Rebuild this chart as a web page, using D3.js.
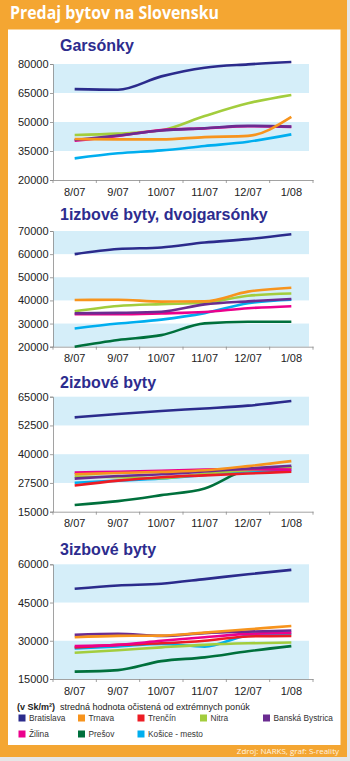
<!DOCTYPE html>
<html><head><meta charset="utf-8">
<script src="https://cdn.jsdelivr.net/npm/d3@7"></script>
<style>
html,body{margin:0;padding:0;background:#fff;}
svg{display:block;}
</style></head>
<body><svg id="c" width="350" height="761"></svg>
<script>
const categories = ["8/07","9/07","10/07","11/07","12/07","1/08"];
const cities = ["Bratislava","Trnava","Trenčín","Nitra","Banská Bystrica","Žilina","Prešov","Košice - mesto"];
const cityColors = ["#2b2b8c","#f7941d","#ed1c24","#a3cd3d","#6b2c91","#ec008c","#00703c","#00aeef"];

const chartTitles = ["Garsónky","1izbové byty, dvojgarsónky","2izbové byty","3izbové byty"];
const garsonkyTicks = [80000,65000,50000,35000,20000];
const izbove1Ticks = [70000,60000,50000,40000,30000,20000];
const izbove2Ticks = [65000,52500,40000,27500,15000];
const izbove3Ticks = [60000,45000,30000,15000];

// rows follow the order of `cities`; null = series not shown
const garsonky = [
  [67000,66700,73600,78100,79800,81000],
  [41200,41000,41000,42200,42800,52600],
  null,
  [43300,44000,45700,53100,59700,64000],
  [40700,43000,45600,46800,48000,47600],
  [40300,42800,45800,46700,47800,47500],
  null,
  [31200,33800,35300,37600,39800,43600]
];
const izbove1 = [
  [60000,62200,62900,65000,66500,68600],
  [40200,40300,39500,39600,43800,45500],
  null,
  [35300,37600,38400,39000,42000,43000],
  [34400,34600,35100,38300,39600,40600],
  [34000,34000,34400,35000,36600,37500],
  [20000,22900,25000,30100,30800,30800],
  [27900,30000,31700,34500,38800,40300]
];
const izbove2 = [
  [56000,57500,58800,59900,61100,63100],
  [31300,31800,32300,33000,34800,37000],
  [26400,28500,30000,30800,31600,32400],
  [30300,30000,29600,31500,33000,34100],
  [29400,30500,31300,32500,33800,35000],
  [32000,32400,32800,33300,33500,33300],
  [17900,19600,22200,25100,33100,34300],
  [27600,28500,29500,31000,32500,33000]
];
const izbove3 = [
  [50400,51700,52400,54200,56100,57800],
  [31400,31900,32000,33200,34500,35800],
  [27400,28400,29000,30000,31700,31900],
  [25300,26300,27400,28400,29000,29300],
  [32300,32700,31900,33000,33600,34000],
  [27900,28400,30000,31400,32700,33200],
  [17900,18500,22000,23500,25900,27900],
  [27000,27800,28800,27700,32000,32700]
];

const mainTitle = "Predaj bytov na Slovensku";
const unitLabel = "(v Sk/m²)";
const noteLabel = "stredná hodnota očistená od extrémnych ponúk";
const sourceLabel = "Zdroj: NARKS, graf: S-reality";

// ---------- layout ----------
const svg = d3.select("#c");
const ORANGE = "#f4a632";
svg.append("rect").attr("x",0).attr("y",0).attr("width",350).attr("height",761).attr("fill","#e6e6e6");
svg.append("rect").attr("x",0).attr("y",0).attr("width",347).attr("height",757).attr("fill",ORANGE);
svg.append("rect").attr("x",8).attr("y",29.5).attr("width",332.5).attr("height",715.5).attr("fill","#fff");

svg.append("text").attr("x",10).attr("y",19).text(mainTitle)
  .attr("font-family","'Open Sans', Lato, sans-serif").attr("font-weight","bold")
  .attr("font-size",17).attr("fill","#fff")
  .attr("textLength",209).attr("lengthAdjust","spacingAndGlyphs");

const charts = [
  {data: garsonky, ticks: garsonkyTicks, top: 64, bottom: 180, titleY: 51},
  {data: izbove1, ticks: izbove1Ticks, top: 231, bottom: 346.7, titleY: 220},
  {data: izbove2, ticks: izbove2Ticks, top: 396.7, bottom: 511.7, titleY: 388},
  {data: izbove3, ticks: izbove3Ticks, top: 564.3, bottom: 679, titleY: 554.5}
];
const drawOrder = [6,7,3,2,5,4,1,0];
const x = d3.scaleBand().domain(categories).range([53,313]);
const FONT = "'Liberation Sans', Arial, sans-serif";

charts.forEach((c,ci) => {
  const g = svg.append("g");
  const tk = c.ticks;
  const y = d3.scaleLinear().domain([d3.min(tk), d3.max(tk)]).range([c.bottom, c.top]);
  for (let i = 0; i + 1 < tk.length; i += 2) {
    g.append("rect").attr("x",53).attr("width",256)
      .attr("y", y(tk[i])).attr("height", y(tk[i+1]) - y(tk[i]))
      .attr("fill","#d5eef9");
  }
  g.append("text").attr("x",60).attr("y",c.titleY).text(chartTitles[ci])
    .attr("font-family",FONT).attr("font-weight","bold").attr("font-size",16)
    .attr("fill","#2d2c8e");
  const ya = d3.axisLeft(y).tickValues(tk).tickSize(3).tickPadding(1.5).tickFormat(d3.format("d"));
  const yg = g.append("g").attr("transform","translate(53,0)").call(ya);
  const xa = d3.axisBottom(x).tickSize(0).tickPadding(8);
  const xg = g.append("g").attr("transform",`translate(0,${c.bottom})`).call(xa);
  const edges = categories.map(d => x(d)).concat([x.range()[1]]);
  g.selectAll(".xe").data(edges).join("line")
    .attr("x1",d=>d).attr("x2",d=>d).attr("y1",c.bottom).attr("y2",c.bottom+3)
    .attr("stroke","#8a8a8a").attr("stroke-width",0.8);
  [yg,xg].forEach(a => {
    a.select(".domain").attr("stroke","#8a8a8a").attr("stroke-width",0.8);
    a.selectAll(".tick line").attr("stroke","#8a8a8a").attr("stroke-width",0.8);
    a.selectAll("text").attr("font-family",FONT).attr("font-size",11).attr("fill","#222");
  });
  const line = d3.line().x((d,i)=>x(categories[i]) + x.bandwidth()/2).y(d=>y(d)).curve(d3.curveMonotoneX);
  drawOrder.forEach(k => {
    const s = c.data[k];
    if (!s) return;
    g.append("path").attr("d", line(s)).attr("fill","none")
      .attr("stroke", cityColors[k]).attr("stroke-width",2.6)
      .attr("stroke-linejoin","round").attr("stroke-linecap","butt");
  });
});

const note = svg.append("text").attr("x",17).attr("y",710).attr("font-family",FONT).attr("font-size",9).attr("fill","#222");
note.append("tspan").attr("font-weight","bold").text(unitLabel);
note.append("tspan").attr("dx",5).text(noteLabel);

const legendX = [18.5,78,137.5,200,263];
const legendRowY = [714.5,730.5];
cities.forEach((name,i) => {
  const row = i < 5 ? 0 : 1;
  const col = i < 5 ? i : i - 5;
  const lx = legendX[col], ly = legendRowY[row];
  svg.append("rect").attr("x",lx).attr("y",ly).attr("width",7).attr("height",7).attr("fill",cityColors[i]);
  svg.append("text").attr("x",lx + 10.5).attr("y",ly + 6.5).text(name)
    .attr("font-family",FONT).attr("font-size",8.3).attr("fill","#333");
});

svg.append("text").attr("x",339).attr("y",753.5).attr("text-anchor","end").text(sourceLabel)
  .attr("font-family","'Open Sans', sans-serif").attr("font-size",8).attr("fill","#fff4e0");
</script></body></html>
